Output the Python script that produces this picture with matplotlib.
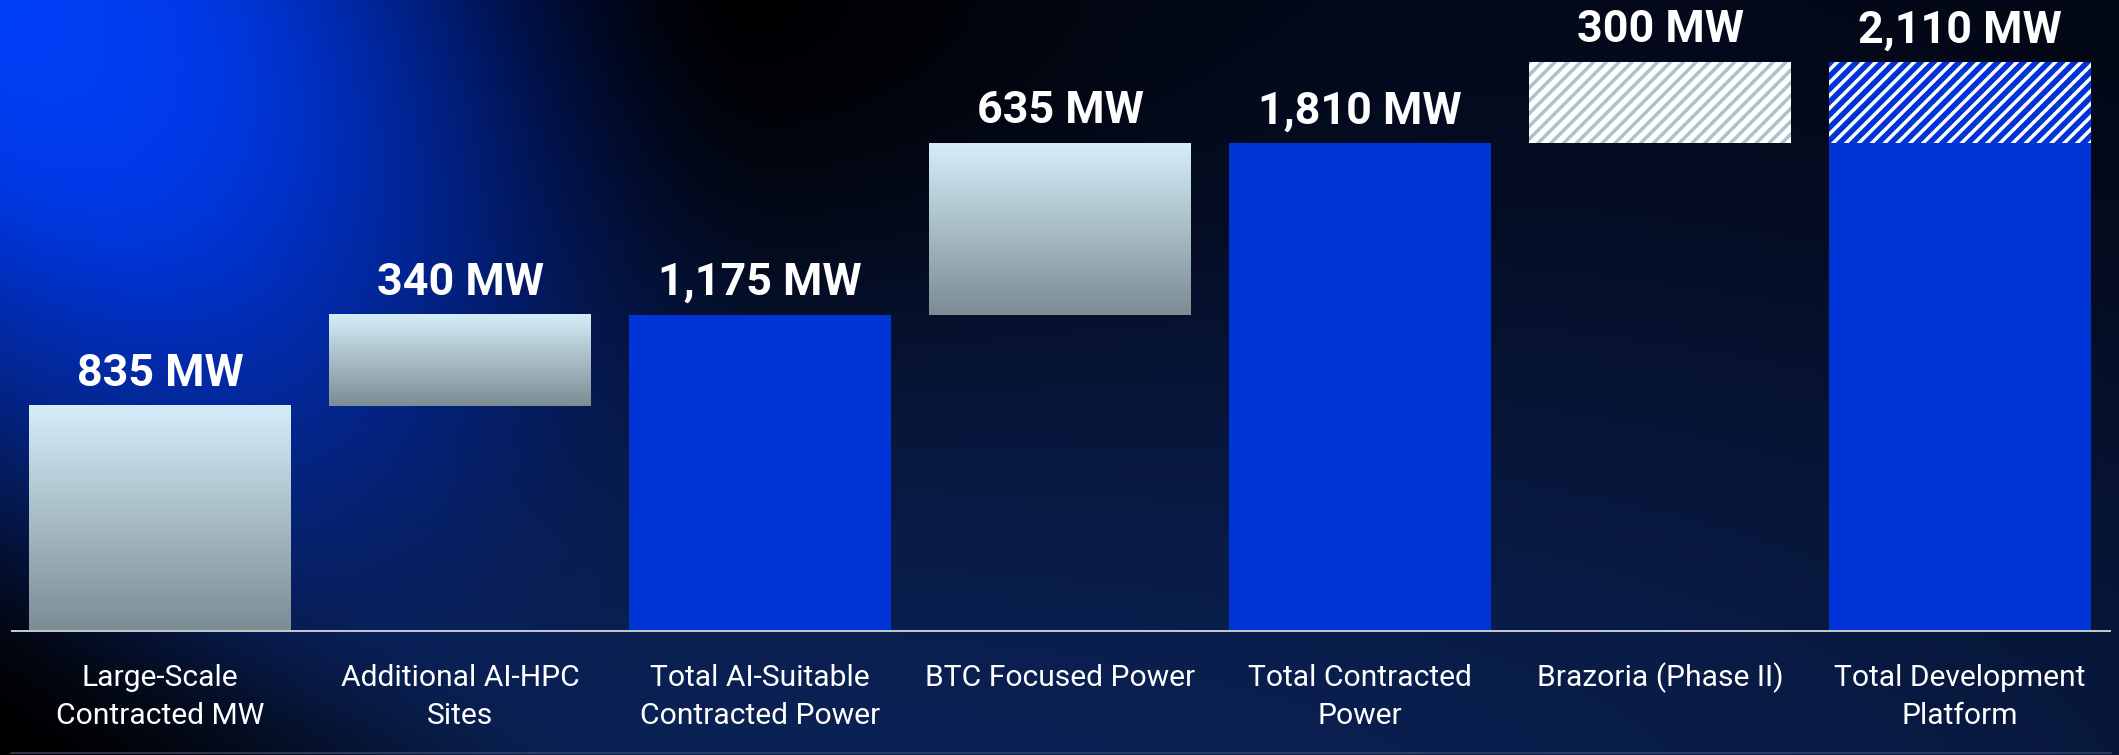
import numpy as np
import matplotlib
matplotlib.use("Agg")
import matplotlib.pyplot as plt
from matplotlib.colors import to_rgb

# ---------------- data ----------------
categories = ["Large-Scale\nContracted MW", "Additional AI-HPC\nSites",
              "Total AI-Suitable\nContracted Power", "BTC Focused Power",
              "Total Contracted\nPower", "Brazoria (Phase II)",
              "Total Development\nPlatform"]
values = [835, 340, 1175, 635, 1810, 300, 2110]
value_labels = ["835 MW", "340 MW", "1,175 MW", "635 MW", "1,810 MW", "300 MW", "2,110 MW"]
# kind of each bar: "inc" = floating increment, "total" = sum from zero,
# "future" = hatched increment, "total_future" = total with hatched future part
kinds = ["inc", "inc", "total", "inc", "total", "future", "total_future"]
future_values = [0, 0, 0, 0, 0, 300, 300]

# ---------------- style ----------------
DPI = 77
W_PX, H_PX = 2119, 755
BLUE = "#0034d6"
GRAD_TOP = np.array(to_rgb("#d4eef9"))
GRAD_BOT = np.array(to_rgb("#7c8c93"))
HATCH_LIGHT = "#adc3cb"
BAR_WIDTH = 0.873
MW_PER_PX = 3.708
BASE_PX = 123.5          # baseline height from bottom in px
LEFT_CENTER_PX = 160.0
STEP_PX = 300.0

plt.rcParams["hatch.linewidth"] = 3.3
plt.rcParams["font.family"] = ["Roboto", "DejaVu Sans"]

fig = plt.figure(figsize=((W_PX + 0.01) / DPI, (H_PX + 0.01) / DPI), dpi=DPI)


def smoothstep(e0, e1, a):
    t = np.clip((a - e0) / (e1 - e0), 0, 1)
    return t * t * (3 - 2 * t)


# ---------------- background ----------------
ax_bg = fig.add_axes([0, 0, 1, 1], zorder=0)
yy = np.arange(H_PX)[:, None].astype(float)
xx = np.arange(W_PX)[None, :].astype(float)
# navy base, darker at top, slightly darker at right
top_c = np.array(to_rgb("#040b1f"))
bot_c = np.array(to_rgb("#0b2256"))
t = smoothstep(0, H_PX, yy)[..., None] * 0.7 + (yy / H_PX)[..., None] * 0.3
base = top_c * (1 - t) + bot_c * t
base = base * (1 - 0.3 * (xx / W_PX) ** 3)[..., None]
# black spot at top middle-left
m_top = 1 - 0.9 * np.exp(-((xx - 720) / 420) ** 2) * np.exp(-(yy / 260) ** 2)
# dark bottom-left corner
m_bl = smoothstep(0.0, 1.0, xx / 650 + (H_PX - yy) / 420)
base = base * (m_top * m_bl)[..., None]
# blue glow from top-left corner, stretched along the diagonal
u = (xx + yy) / np.sqrt(2)
v = (yy - xx) / np.sqrt(2)
a_v = np.where(v > 0, 430.0, 510.0)
d = np.sqrt((u / 740.0) ** 2 + (v / a_v) ** 2)
g = 1 - smoothstep(0.25, 1.25, d)
b1 = np.array(to_rgb("#0040fa"))
b2 = np.array(to_rgb("#002cc0"))
dd = np.clip(d, 0, 1)[..., None]
blue = b1 * (1 - dd) + b2 * dd
img = g[..., None] * blue + (1 - g)[..., None] * base
ax_bg.imshow(np.clip(img, 0, 1), extent=[0, 1, 0, 1], aspect="auto",
             interpolation="bilinear", origin="upper")
ax_bg.set_axis_off()

# ---------------- main axes ----------------
ax = fig.add_axes([0, 0, 1, 1], zorder=1)
ax.patch.set_alpha(0)
xlim = (-LEFT_CENTER_PX / STEP_PX, (W_PX - LEFT_CENTER_PX) / STEP_PX)
ylim = (-BASE_PX * MW_PER_PX, (H_PX - BASE_PX) * MW_PER_PX)

x = np.arange(len(values))
running = 0
grad = np.linspace(0, 1, 256)[:, None]
grad_img = GRAD_TOP[None, None, :] * (1 - grad[..., None]) + GRAD_BOT[None, None, :] * grad[..., None]

tops = []
for i, (val, kind, fut) in enumerate(zip(values, kinds, future_values)):
    if kind == "inc":
        bottom = running
        ax.bar(x[i], val, bottom=bottom, width=BAR_WIDTH, color="none",
               linewidth=0, zorder=2)
        x0 = x[i] - BAR_WIDTH / 2
        ax.imshow(grad_img, extent=[x0, x0 + BAR_WIDTH, bottom, bottom + val],
                  aspect="auto", origin="upper", zorder=2, interpolation="bilinear")
        running += val
        tops.append(bottom + val)
    elif kind == "total":
        ax.bar(x[i], val, bottom=0, width=BAR_WIDTH, color=BLUE, linewidth=0, zorder=2)
        running = val
        tops.append(val)
    elif kind == "future":
        bottom = running
        ax.bar(x[i], val, bottom=bottom, width=BAR_WIDTH, facecolor="white",
               edgecolor=HATCH_LIGHT, hatch="//", linewidth=0, zorder=2)
        running += val
        tops.append(bottom + val)
    elif kind == "total_future":
        solid = val - fut
        ax.bar(x[i], solid, bottom=0, width=BAR_WIDTH, color=BLUE, linewidth=0, zorder=2)
        ax.bar(x[i], fut, bottom=solid, width=BAR_WIDTH, facecolor=BLUE,
               edgecolor="white", hatch="//", linewidth=0, zorder=2)
        tops.append(val)

# value labels
for i, lab in enumerate(value_labels):
    ax.annotate(lab, (x[i], tops[i]), xytext=(0, 20 * 72 / DPI), textcoords="offset points",
                ha="center", va="baseline", color="white", fontsize=42,
                fontweight="bold", zorder=5)

# baseline
ax.hlines(0, -0.497, 6.503, colors="#c2c6cc", linewidth=2 * 72 / DPI, zorder=3)
# faint bottom rule
ax.plot([-0.497, 6.503], [ylim[0] + 1.5 * MW_PER_PX] * 2, color="#3a4663",
        linewidth=1.5 * 72 / DPI, zorder=3)

# category labels (two lines each, placed line by line)
xt = ax.get_xaxis_transform()
line_y = [1 - 686 / H_PX, 1 - 724 / H_PX]
for i, cat in enumerate(categories):
    for j, line in enumerate(cat.split("\n")):
        ax.text(x[i], line_y[j], line, transform=xt, ha="center", va="baseline",
                color="white", fontsize=28, fontweight="normal", zorder=5)

ax.set_xlim(*xlim)
ax.set_ylim(*ylim)
ax.set_axis_off()

fig.savefig("out.png", dpi=DPI)
